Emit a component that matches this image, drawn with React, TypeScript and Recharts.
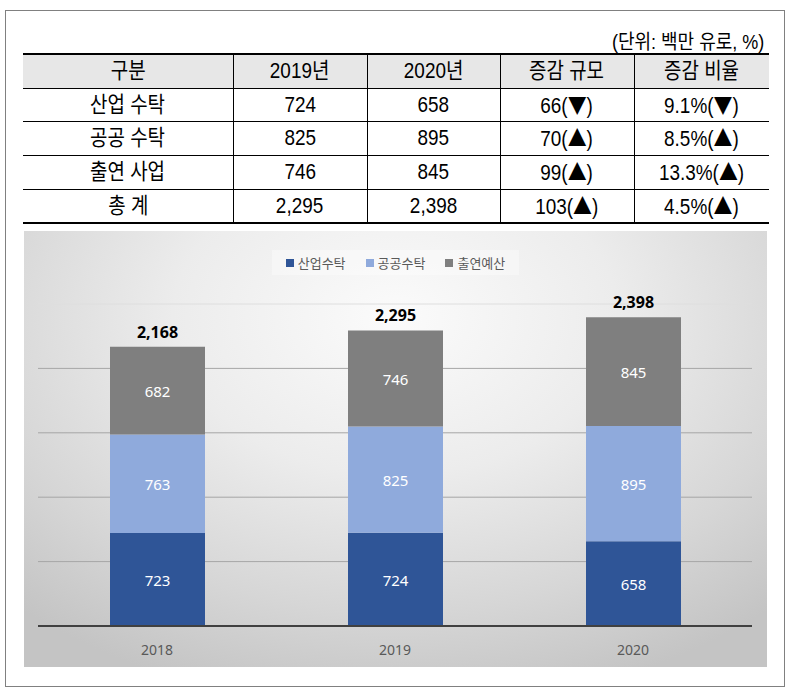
import React from "react";
import { BarChart, Bar, XAxis, YAxis, CartesianGrid, LabelList, Legend } from "recharts";

// ---------- data ----------
const years = ["2018", "2019", "2020"];
const industry = [723, 724, 658];
const publicC = [763, 825, 895];
const contrib = [682, 746, 845];
const totals = [2168, 2295, 2398];
const seriesNames = ["산업수탁", "공공수탁", "출연예산"];
const yTicks = [0, 500, 1000, 1500, 2000, 2500];
const innerGridValues = [500, 1000, 1500, 2000];
const topGridValues = [2500];

const unitText = "(단위: 백만 유로, %)";
const tableHeader = ["구분", "2019년", "2020년", "증감 규모", "증감 비율"];
const rowLabels = ["산업 수탁", "공공 수탁", "출연 사업", "총 계"];
const col2019 = ["724", "825", "746", "2,295"];
const col2020 = ["658", "895", "845", "2,398"];
const colChange = ["66(▼)", "70(▲)", "99(▲)", "103(▲)"];
const colRate = ["9.1%(▼)", "8.5%(▲)", "13.3%(▲)", "4.5%(▲)"];

// ---------- layout ----------
const colEdges = [23, 233, 367, 500, 634, 769];
const rowEdges = [54, 88, 121, 155, 189, 222];
const colors = ["#2F5597", "#8FAADC", "#7F7F7F"];
const keys = ["industry", "public", "contrib"];

const chartData = years.map((y, i) => ({
  year: y,
  industry: industry[i],
  public: publicC[i],
  contrib: contrib[i],
  total: totals[i],
}));

const tableFont = "'Liberation Sans', 'Noto Sans CJK KR', sans-serif";
const chartFont = "'Noto Sans', 'Noto Sans CJK KR', sans-serif";

const renderCellText = (txt: string) =>
  txt.split(/([▲▼])/).map((part, i) =>
    part === "▲" || part === "▼" ? (
      <span key={i} style={{ fontFamily: "'Noto Sans CJK KR', sans-serif", lineHeight: 1 }}>
        {part}
      </span>
    ) : (
      <React.Fragment key={i}>{part}</React.Fragment>
    )
  );

const LegendContent = () => (
  <div style={{ display: "flex", justifyContent: "center", width: "100%" }}>
    <div
      style={{
        display: "flex",
        gap: 20,
        padding: "3px 14px",
        background: "rgba(255,255,255,0.35)",
        fontFamily: "'Noto Sans CJK KR', sans-serif",
        fontSize: 13,
        color: "#595959",
        alignItems: "center",
      }}
    >
      {seriesNames.map((n, i) => (
        <div key={n} style={{ display: "flex", alignItems: "center", gap: 4 }}>
          <span style={{ display: "inline-block", width: 8, height: 8, background: colors[i] }} />
          <span>{n}</span>
        </div>
      ))}
    </div>
  </div>
);

export default function App() {
  const rows = rowLabels.map((r, i) => [r, col2019[i], col2020[i], colChange[i], colRate[i]]);
  const allRows = [tableHeader, ...rows];
  return (
    <div style={{ position: "absolute", left: 0, top: 0, width: 795, height: 695, background: "#fff" }}>
      {/* outer frame */}
      <div
        style={{
          position: "absolute",
          left: 5,
          top: 10,
          width: 778,
          height: 675,
          border: "1.5px solid #808080",
        }}
      />
      {/* unit */}
      <div
        style={{
          position: "absolute",
          right: 795 - 764,
          top: 26,
          fontFamily: tableFont,
          fontSize: 20,
          color: "#000",
          whiteSpace: "nowrap",
          transform: "scaleX(0.9)",
          transformOrigin: "right center",
        }}
      >
        {unitText}
      </div>
      {/* header bg */}
      <div
        style={{
          position: "absolute",
          left: colEdges[0],
          top: rowEdges[0],
          width: colEdges[5] - colEdges[0],
          height: rowEdges[1] - rowEdges[0],
          background: "#e7e7e7",
        }}
      />
      {/* horizontal lines */}
      {rowEdges.map((y, i) => (
        <div
          key={"h" + i}
          style={{
            position: "absolute",
            left: colEdges[0],
            top: y - (i === 0 ? 1 : 0),
            width: colEdges[5] - colEdges[0],
            height: i === 0 || i === rowEdges.length - 1 ? 2 : 1,
            background: "#000",
          }}
        />
      ))}
      {/* vertical lines */}
      {colEdges.slice(1, 5).map((x, i) => (
        <div
          key={"v" + i}
          style={{
            position: "absolute",
            left: x,
            top: rowEdges[0],
            width: 1,
            height: rowEdges[5] - rowEdges[0],
            background: "#000",
          }}
        />
      ))}
      {/* cells */}
      {allRows.map((row, ri) =>
        row.map((txt, ci) => (
          <div
            key={ri + "-" + ci}
            style={{
              position: "absolute",
              left: colEdges[ci],
              top: rowEdges[ri],
              width: colEdges[ci + 1] - colEdges[ci],
              height: rowEdges[ri + 1] - rowEdges[ri],
              display: "flex",
              alignItems: "center",
              justifyContent: "center",
              fontFamily: tableFont,
              fontSize: 22,
              lineHeight: "24px",
              color: "#000",
              whiteSpace: "nowrap",
            }}
          >
            <span style={{ display: "inline-block", transform: "scaleX(0.86)", lineHeight: "24px" }}>
              {renderCellText(txt)}
            </span>
          </div>
        ))
      )}
      {/* chart panel */}
      <div
        style={{
          position: "absolute",
          left: 24,
          top: 231,
          width: 743,
          height: 436,
          background:
            "radial-gradient(ellipse 75% 90% at 50% 20%, #fbfbfb 0%, #ececec 40%, #d6d6d6 75%, #c4c4c4 100%)",
        }}
      >
        <BarChart
          width={743}
          height={436}
          data={chartData}
          margin={{ top: 73, right: 15, left: 14, bottom: 11 }}
          barSize={95}
        >
          <CartesianGrid vertical={false} stroke="#a6a6a6" strokeWidth={1} horizontalValues={innerGridValues} />
          <CartesianGrid vertical={false} stroke="#dedede" strokeWidth={1} horizontalValues={topGridValues} />
          <Legend
            layout="horizontal"
            verticalAlign="middle"
            align="center"
            wrapperStyle={{ top: 19, left: 0, width: 743 }}
            content={<LegendContent />}
          />
          <XAxis
            dataKey="year"
            height={30}
            tickLine={false}
            axisLine={{ stroke: "#404040", strokeWidth: 2 }}
            tick={{ fill: "#595959", fontSize: 14, fontFamily: chartFont }}
            tickMargin={13}
          />
          <YAxis hide domain={[0, 2500]} ticks={yTicks} />
          {keys.map((k, i) => (
            <Bar key={k} dataKey={k} stackId="a" fill={colors[i]} isAnimationActive={false}>
              <LabelList
                dataKey={k}
                position="center"
                fill="#ffffff"
                fontSize={15}
                fontFamily={chartFont}
                dy={1}
              />
              {i === 2 ? (
                <LabelList
                  dataKey="total"
                  position="top"
                  offset={9}
                  fill="#000000"
                  fontSize={16}
                  fontWeight="bold"
                  fontFamily={chartFont}
                  formatter={(v: any) => Number(v).toLocaleString("en-US")}
                />
              ) : null}
            </Bar>
          ))}
        </BarChart>
      </div>
    </div>
  );
}
